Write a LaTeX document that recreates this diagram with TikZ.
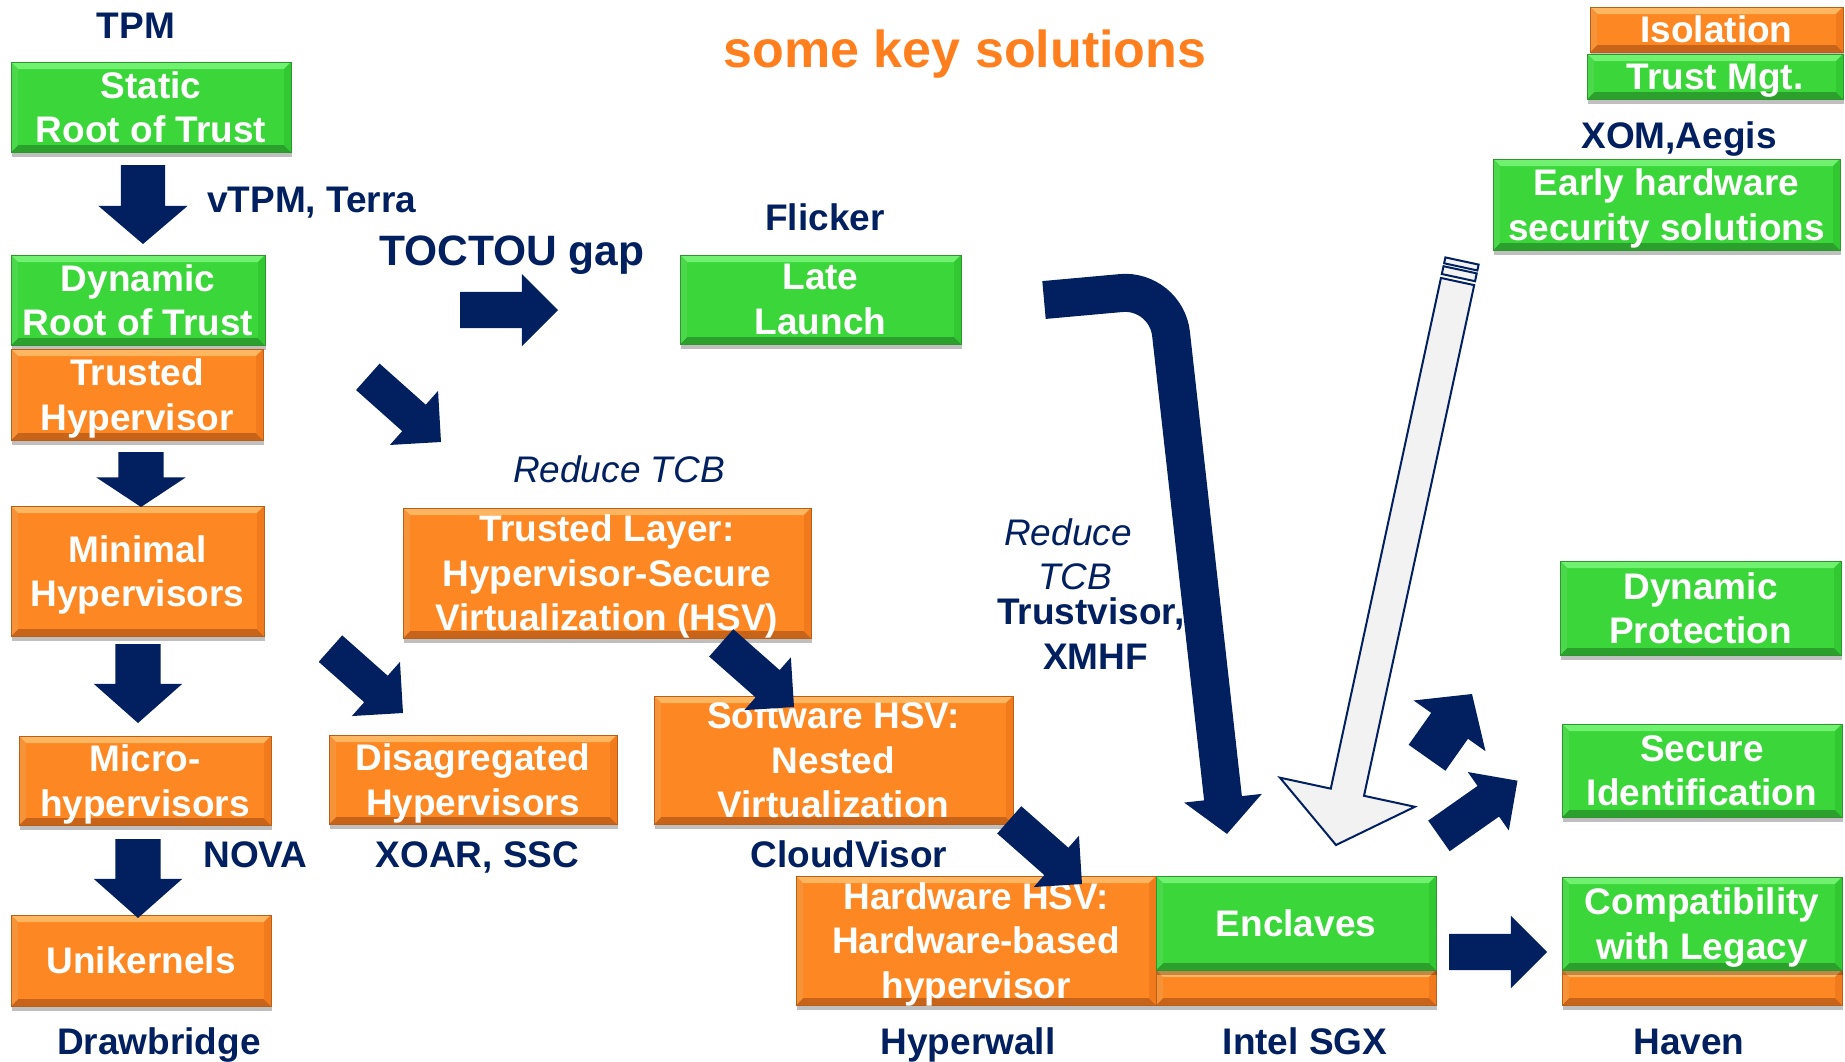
\documentclass[tikz,border=0pt]{standalone}
\usepackage{fontspec}
\setmainfont{Liberation Sans}
\usetikzlibrary{shapes.arrows,arrows.meta,calc,shadows}
\definecolor{navy}{RGB}{2,32,96}
\definecolor{torange}{RGB}{255,127,30}
\definecolor{gmain}{RGB}{58,214,58}
\definecolor{gtop}{RGB}{112,242,112}
\definecolor{gside}{RGB}{50,200,50}
\definecolor{gbot}{RGB}{44,160,44}
\definecolor{gedge}{RGB}{45,150,45}
\definecolor{omain}{RGB}{253,135,34}
\definecolor{otop}{RGB}{255,182,96}
\definecolor{oside}{RGB}{240,122,28}
\definecolor{obot}{RGB}{200,100,26}
\definecolor{oedge}{RGB}{184,96,24}
\definecolor{lgray}{RGB}{242,242,242}
\newcommand\bxfont{\fontsize{37pt}{44.5pt}\selectfont\bfseries}
\newcommand\lblfont{\fontsize{37pt}{44.5pt}\selectfont\bfseries}
\newcommand\itfont{\fontsize{37pt}{44.5pt}\selectfont\itshape}
\newcommand\tocfont{\fontsize{42.5pt}{50pt}\selectfont\bfseries}
\newcommand\ttlfont{\fontsize{52pt}{60pt}\selectfont\bfseries}
\tikzset{
  bevel/.style n args={3}{path picture={
    \fill[#1] (path picture bounding box.north west) -- (path picture bounding box.north east)
      -- ([shift={(-7pt,-7pt)}]path picture bounding box.north east)
      -- ([shift={(7pt,-7pt)}]path picture bounding box.north west) -- cycle;
    \fill[#3] (path picture bounding box.south west) -- (path picture bounding box.south east)
      -- ([shift={(-7pt,7pt)}]path picture bounding box.south east)
      -- ([shift={(7pt,7pt)}]path picture bounding box.south west) -- cycle;
    \fill[#2] (path picture bounding box.north east) -- ([shift={(-7pt,-7pt)}]path picture bounding box.north east)
      -- ([shift={(-7pt,7pt)}]path picture bounding box.south east) -- (path picture bounding box.south east) -- cycle;
    \fill[#2!60!#1] (path picture bounding box.north west) -- ([shift={(7pt,-7pt)}]path picture bounding box.north west)
      -- ([shift={(7pt,7pt)}]path picture bounding box.south west) -- (path picture bounding box.south west) -- cycle;
  }},
  box/.style={rectangle, inner sep=0pt, outer sep=0pt, align=center, text=white, font=\bxfont,
    text depth=0pt, line width=1pt,
    drop shadow={shadow xshift=1pt, shadow yshift=-5pt, opacity=0.25, fill=black}},
  gbox/.style={box, fill=gmain, draw=gedge, bevel={gtop}{gside}{gbot}},
  obox/.style={box, fill=omain, draw=oedge, bevel={otop}{oside}{obot}},
  lbl/.style={text=navy, font=\lblfont, inner sep=0pt, anchor=base},
  barrow/.style n args={4}{single arrow, fill=navy, draw=none, inner xsep=0pt, inner ysep=#1,
    single arrow head extend=#2, minimum height=#3, minimum width=0pt,
    single arrow tip angle=#4, anchor=tip, outer sep=0pt},
  grayarrow/.style={fill=lgray, draw=navy, line width=2pt, line join=miter}
}
\begin{document}
\begin{tikzpicture}[x=1pt,y=-1pt]
\useasboundingbox (0,0) rectangle (1845,1061);
\fill[white] (0,0) rectangle (1845,1061);

% ---- boxes ----
\node[gbox, minimum width=280pt, minimum height=90pt] (static) at (151,107) {Static\\Root of Trust};
\node[gbox, minimum width=254pt, minimum height=90pt] (dyn) at (138,300) {Dynamic\\Root of Trust};
\node[obox, minimum width=252pt, minimum height=91pt] (trhyp) at (137,394.5) {Trusted\\Hypervisor};
\node[obox, minimum width=253pt, minimum height=130pt] (minimal) at (137.5,571) {Minimal\\Hypervisors};
\node[obox, minimum width=252pt, minimum height=89pt] (micro) at (145,780.5) {Micro-\\hypervisors};
\node[obox, minimum width=260pt, minimum height=91pt] (uni) at (141,960.5) {Unikernels};
\node[obox, minimum width=288pt, minimum height=89pt] (disag) at (473,779.5) {Disagregated\\Hypervisors};
\node[obox, minimum width=408pt, minimum height=130pt] (tlayer) at (607,573) {Trusted Layer:\\Hypervisor-Secure\\Virtualization (HSV)};
\node[gbox, minimum width=281pt, minimum height=89pt] (late) at (820.5,299.5) {Late\\Launch};
\node[obox, minimum width=359pt, minimum height=128pt] (swhsv) at (833.5,760) {Software HSV:\\Nested\\Virtualization};
\node[obox, minimum width=360pt, minimum height=129pt] (hwhsv) at (976,940.5) {Hardware HSV:\\Hardware-based\\hypervisor};
\node[obox, minimum width=280pt, minimum height=35pt] (enclstrip) at (1296,987.5) {};
\node[gbox, minimum width=280pt, minimum height=94pt] (encl) at (1296,923) {Enclaves};
\node[obox, minimum width=253pt, minimum height=45pt] (isol) at (1716.5,29.5) {Isolation};
\node[gbox, minimum width=256pt, minimum height=45pt] (trustmgt) at (1715,76.5) {Trust Mgt.};
\node[gbox, minimum width=347pt, minimum height=91pt] (early) at (1666.5,204.5) {Early hardware\\security solutions};
\node[gbox, minimum width=281pt, minimum height=94pt] (dynprot) at (1700.5,608) {Dynamic\\Protection};
\node[gbox, minimum width=280pt, minimum height=93pt] (secid) at (1702,770.5) {Secure\\Identification};
\node[obox, minimum width=280pt, minimum height=35pt] (compstrip) at (1702,987.5) {};
\node[gbox, minimum width=280pt, minimum height=93pt] (compat) at (1702,923.5) {Compatibility\\with Legacy};

% ---- labels ----
\node[font=\ttlfont, text=torange, inner sep=0pt, anchor=base] (title) at (965,67) {some key solutions};
\node[lbl] (tpm) at (136,38) {TPM};
\node[lbl, anchor=base west] (vtpm) at (207,212) {vTPM, Terra};
\node[lbl, font=\tocfont, anchor=base west] (toctou) at (379,265) {TOCTOU gap};
\node[lbl] (flicker) at (825,230) {Flicker};
\node[lbl, font=\itfont, text=navy] (rtcb1) at (619,482) {Reduce TCB};
\node[lbl, font=\itfont] (rtcb2a) at (1068,545) {Reduce};
\node[lbl, font=\itfont] (rtcb2b) at (1075,589) {TCB};
\node[lbl, anchor=base west] (trustv) at (997,624) {Trustvisor,};
\node[lbl] (xmhf) at (1095.5,669) {XMHF};
\node[lbl] (xom) at (1679,148) {XOM,Aegis};
\node[lbl] (nova) at (255.5,867) {NOVA};
\node[lbl] (xoar) at (477.5,867) {XOAR, SSC};
\node[lbl] (cloudv) at (849,867) {CloudVisor};
\node[lbl] (drawb) at (159,1054) {Drawbridge};
\node[lbl] (hyperw) at (968,1054) {Hyperwall};
\node[lbl] (sgx) at (1305,1054) {Intel SGX};
\node[lbl] (haven) at (1689,1054) {Haven};

% ---- block arrows ----
\node[barrow={22pt}{22.5pt}{79pt}{99}, rotate=-90] (a1) at (143,244) {};
\node[barrow={22.5pt}{22pt}{55pt}{113}, rotate=-90] (a2) at (141,507) {};
\node[barrow={22.5pt}{21.5pt}{79pt}{97}, rotate=-90] (a3) at (138,723) {};
\node[barrow={22.5pt}{21.5pt}{79pt}{97}, rotate=-90] (a4) at (138,918) {};
\node[barrow={18pt}{18pt}{98pt}{90}] (a5) at (558,310) {};
\node[barrow={17.5pt}{18.5pt}{98pt}{90}, rotate=-41.7] (a6) at (441,442) {};
\node[barrow={17.5pt}{18.5pt}{97pt}{90}, rotate=-41.6] (a7) at (403,713) {};
\node[barrow={18pt}{17pt}{97pt}{90}, rotate=-41.4] (a8) at (794,707) {};
\node[barrow={18pt}{16pt}{97pt}{90}, rotate=-41.4] (a9) at (1082,884) {};
\node[barrow={22.3pt}{21.5pt}{78pt}{97}, rotate=54.8] (a10) at (1472,694) {};
\node[barrow={18.5pt}{17pt}{96pt}{90}, rotate=35.1] (a11) at (1517.5,780.7) {};
\node[barrow={18pt}{18pt}{98pt}{90}] (a12) at (1547,952) {};

% ---- bent navy arrow ----
\coordinate (bentA) at (1044,300);
\coordinate (bentC) at (1166,289);
\coordinate (bentB) at (1227,834);
\draw[navy, line width=38pt, rounded corners=45pt, -{Triangle[length=36pt,width=76pt]}]
  (bentA) -- (bentC) -- (bentB);

% ---- striped gray arrow ----
\coordinate (gtail) at (1462,261);
\coordinate (gtip) at (1336,845);
\draw[grayarrow] ($(gtail)!17pt!90:(gtip)$) -- ($(gtail)!17pt!-90:(gtip)$)
  -- ($(gtail)!6pt!(gtip)!17pt!-90:(gtip)$) -- ($(gtail)!6pt!(gtip)!17pt!90:(gtip)$) -- cycle;
\draw[grayarrow] ($(gtail)!9pt!(gtip)!17pt!90:(gtip)$) -- ($(gtail)!9pt!(gtip)!17pt!-90:(gtip)$)
  -- ($(gtail)!17pt!(gtip)!17pt!-90:(gtip)$) -- ($(gtail)!17pt!(gtip)!17pt!90:(gtip)$) -- cycle;
\draw[grayarrow] ($(gtail)!21pt!(gtip)!17pt!90:(gtip)$)
  -- ($(gtip)!54pt!(gtail)!17pt!-90:(gtail)$)
  -- ($(gtip)!54pt!(gtail)!69pt!-90:(gtail)$)
  -- (gtip)
  -- ($(gtip)!54pt!(gtail)!69pt!90:(gtail)$)
  -- ($(gtip)!54pt!(gtail)!17pt!90:(gtail)$)
  -- ($(gtail)!21pt!(gtip)!17pt!-90:(gtip)$) -- cycle;
\end{tikzpicture}
\end{document}
